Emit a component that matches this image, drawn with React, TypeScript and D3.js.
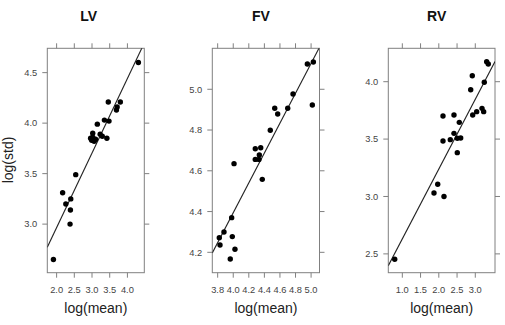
import React from "react";
import * as d3 from "d3";

// ---- data ----
const lvX = [4.31, 3.46, 3.80, 3.71, 3.69, 3.35, 3.48, 3.15, 3.02, 3.23, 3.29, 3.42, 2.96, 2.99, 3.06, 3.02, 3.10, 2.54, 2.17, 2.40, 2.26, 2.39, 2.38, 1.91];
const lvY = [4.60, 4.21, 4.21, 4.16, 4.13, 4.03, 4.02, 3.99, 3.90, 3.89, 3.87, 3.85, 3.85, 3.83, 3.82, 3.86, 3.84, 3.49, 3.31, 3.25, 3.20, 3.14, 3.00, 2.65];
const lvFit = [1.488, 0.7385];

const fvX = [4.952, 5.029, 5.016, 4.768, 4.70, 4.533, 4.571, 4.476, 4.283, 4.353, 4.335, 4.283, 4.33, 4.373, 4.01, 3.98, 3.881, 3.821, 3.83, 3.988, 4.022, 3.962];
const fvY = [5.124, 5.134, 4.923, 4.977, 4.907, 4.907, 4.879, 4.799, 4.708, 4.713, 4.678, 4.656, 4.656, 4.558, 4.635, 4.370, 4.300, 4.272, 4.236, 4.277, 4.215, 4.167];
const fvFit = [1.462, 0.733];

const rvX = [3.312, 3.356, 3.247, 2.918, 2.874, 2.929, 3.038, 3.184, 3.230, 2.115, 2.416, 2.562, 2.115, 2.315, 2.416, 2.507, 2.60, 2.507, 1.868, 1.970, 2.142, 0.792];
const rvY = [4.174, 4.154, 3.995, 4.052, 3.930, 3.710, 3.739, 3.768, 3.739, 3.701, 3.710, 3.646, 3.483, 3.495, 3.550, 3.507, 3.51, 3.382, 3.030, 3.106, 3.000, 2.453];
const rvFit = [2.023, 0.608];

const titles = ["LV", "FV", "RV"];
const lvXTicks = [2.0, 2.5, 3.0, 3.5, 4.0];
const lvYTicks = [3.0, 3.5, 4.0, 4.5];
const fvXTicks = [3.8, 4.0, 4.2, 4.4, 4.6, 4.8, 5.0];
const fvYTicks = [4.2, 4.4, 4.6, 4.8, 5.0];
const rvXTicks = [1.0, 1.5, 2.0, 2.5, 3.0];
const rvYTicks = [2.5, 3.0, 3.5, 4.0];

const lvXDom = [1.737, 4.477];
const lvYDom = [2.519, 4.741];
const fvXDom = [3.731, 5.108];
const fvYDom = [4.10, 5.201];
const rvXDom = [0.616, 3.540];
const rvYDom = [2.336, 4.291];

const TOP = 48.3;
const BOTTOM = 272.7;
const boxColor = "#808080";
const labelColor = "#444";
const font = "Liberation Sans, Arial, sans-serif";

type PanelProps = {
  id: string;
  title: string;
  x0: number;
  x1: number;
  xs: number[];
  ys: number[];
  fit: number[];
  xDom: number[];
  yDom: number[];
  xTicks: number[];
  yTicks: number[];
  titleDx: number;
};

function Panel(p: PanelProps) {
  const x = d3.scaleLinear().domain(p.xDom).range([p.x0, p.x1]);
  const y = d3.scaleLinear().domain(p.yDom).range([BOTTOM, TOP]);
  const fmt = d3.format(".1f");
  const line = d3
    .line<number>()
    .x((d) => x(d))
    .y((d) => y(p.fit[0] + p.fit[1] * d));
  const tl = 5;
  const cx = (p.x0 + p.x1) / 2;
  return (
    <g>
      <defs>
        <clipPath id={p.id}>
          <rect x={p.x0} y={TOP} width={p.x1 - p.x0} height={BOTTOM - TOP} />
        </clipPath>
      </defs>
      <text x={cx + p.titleDx} y={20.5} textAnchor="middle" fontWeight="bold" fontSize={14} fontFamily={font} fill="#111">
        {p.title}
      </text>
      <rect x={p.x0} y={TOP} width={p.x1 - p.x0} height={BOTTOM - TOP} fill="none" stroke={boxColor} strokeWidth={1} />
      {p.xTicks.map((t) => (
        <g key={"x" + t}>
          <line x1={x(t)} x2={x(t)} y1={BOTTOM} y2={BOTTOM + tl} stroke={boxColor} />
          <line x1={x(t)} x2={x(t)} y1={TOP} y2={TOP - tl} stroke={boxColor} />
          <text x={x(t)} y={292.5} textAnchor="middle" fontSize={9.3} fontFamily={font} fill={labelColor}>
            {fmt(t)}
          </text>
        </g>
      ))}
      {p.yTicks.map((t) => (
        <g key={"y" + t}>
          <line x1={p.x0} x2={p.x0 - tl} y1={y(t)} y2={y(t)} stroke={boxColor} />
          <line x1={p.x1} x2={p.x1 + tl} y1={y(t)} y2={y(t)} stroke={boxColor} />
          <text x={p.x0 - 10} y={y(t) + 3.3} textAnchor="end" fontSize={9.3} fontFamily={font} fill={labelColor}>
            {fmt(t)}
          </text>
        </g>
      ))}
      <path d={line(p.xDom) || ""} clipPath={`url(#${p.id})`} stroke="#222" strokeWidth={1.1} fill="none" />
      {p.xs.map((v, i) => (
        <circle key={i} cx={x(v)} cy={y(p.ys[i])} r={2.7} fill="#000" />
      ))}
      <text x={cx} y={313} textAnchor="middle" fontSize={14} fontFamily={font} fill="#222">
        log(mean)
      </text>
    </g>
  );
}

export default function App() {
  return (
    <svg width={505} height={325} style={{ position: "absolute", left: 0, top: 0, background: "#fff" }}>
      <rect x={0} y={0} width={505} height={325} fill="#fff" />
      <Panel id="clipLV" title={titles[0]} x0={47.3} x1={144.3} xs={lvX} ys={lvY} fit={lvFit} xDom={lvXDom} yDom={lvYDom} xTicks={lvXTicks} yTicks={lvYTicks} titleDx={-7} />
      <Panel id="clipFV" title={titles[1]} x0={212.3} x1={319.5} xs={fvX} ys={fvY} fit={fvFit} xDom={fvXDom} yDom={fvYDom} xTicks={fvXTicks} yTicks={fvYTicks} titleDx={-5} />
      <Panel id="clipRV" title={titles[2]} x0={388.3} x1={495} xs={rvX} ys={rvY} fit={rvFit} xDom={rvXDom} yDom={rvYDom} xTicks={rvXTicks} yTicks={rvYTicks} titleDx={-5} />
      <text transform="translate(13,160) rotate(-90)" textAnchor="middle" fontSize={14} fontFamily={font} fill="#222">
        log(std)
      </text>
    </svg>
  );
}
